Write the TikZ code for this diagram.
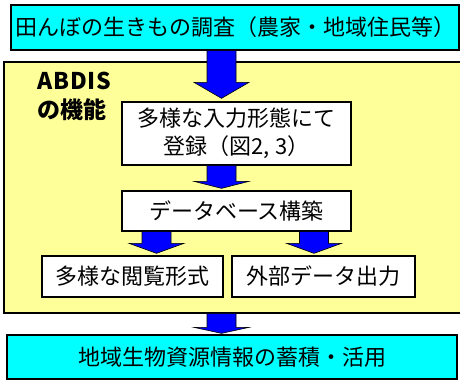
\documentclass[tikz,border=0pt]{standalone}
\usepackage{fontspec}
\setmainfont{Noto Sans CJK JP}
\usetikzlibrary{calc}
\definecolor{cy}{HTML}{00FFFF}
\definecolor{yl}{HTML}{FFFF99}
\definecolor{bl}{HTML}{0000FF}
\newcommand\blockarrow[5]{% #1 x-centre coordinate, #2 from, #3 to, #4 head length, #5 gap
  \draw[arr] let \p0=(#1), \p1=(#2.south), \p2=(#3.north) in
    (\x0-14.5pt,\y1) -- (\x0+14.5pt,\y1) -- (\x0+14.5pt,\y2+#5+#4) -- (\x0+27.5pt,\y2+#5+#4)
    -- (\x0,\y2+#5) -- (\x0-27.5pt,\y2+#5+#4) -- (\x0-14.5pt,\y2+#5+#4) -- cycle;}
\begin{document}
\begin{tikzpicture}[x=1pt,y=-1pt,
  box/.style={draw=black, line width=1.3pt, inner sep=0pt, align=center,
    font=\fontsize{22pt}{28pt}\selectfont},
  arr/.style={fill=bl, draw=black, line width=0.6pt, line join=miter},
  lbl/.style={inner sep=0pt, align=left, font=\fontsize{23pt}{29pt}\selectfont\bfseries}]
\useasboundingbox (0,0) rectangle (460,381);
\fill[white] (0,0) rectangle (460,381);
\node[box, fill=cy, minimum width=448, minimum height=45] (survey) at (235,27.5) {田んぼの生きもの調査（農家・地域住民等）};
\node[box, fill=yl, minimum width=458, minimum height=251] (abdis) at (233,187.5) {};
\node[lbl, anchor=west] (abdislbl) at (37,96) {{\addfontfeature{LetterSpace=4}ABDIS}\\の機能};
\node[box, fill=white, minimum width=229, minimum height=63] (reg) at (236.5,133.5) {多様な入力形態にて\\登録（図2, 3）};
\node[box, fill=white, minimum width=229, minimum height=40] (db) at (236.5,211) {データベース構築};
\node[box, fill=white, minimum width=181, minimum height=41] (view) at (132.5,276.5) {多様な閲覧形式};
\node[box, fill=white, minimum width=183, minimum height=41] (ext) at (323.5,276.5) {外部データ出力};
\node[box, fill=cy, minimum width=450, minimum height=44] (use) at (232,357) {地域生物資源情報の蓄積・活用};
\coordinate (xa) at (221.5,0);
\coordinate (xl) at (156.5,0);
\coordinate (xr) at (314,0);
\blockarrow{xa}{survey}{reg}{16pt}{3pt}
\blockarrow{xa}{reg}{db}{7pt}{2pt}
\blockarrow{xl}{db}{view}{10pt}{2pt}
\blockarrow{xr}{db}{ext}{10pt}{2pt}
\blockarrow{xa}{abdis}{use}{6pt}{1pt}
\end{tikzpicture}
\end{document}
